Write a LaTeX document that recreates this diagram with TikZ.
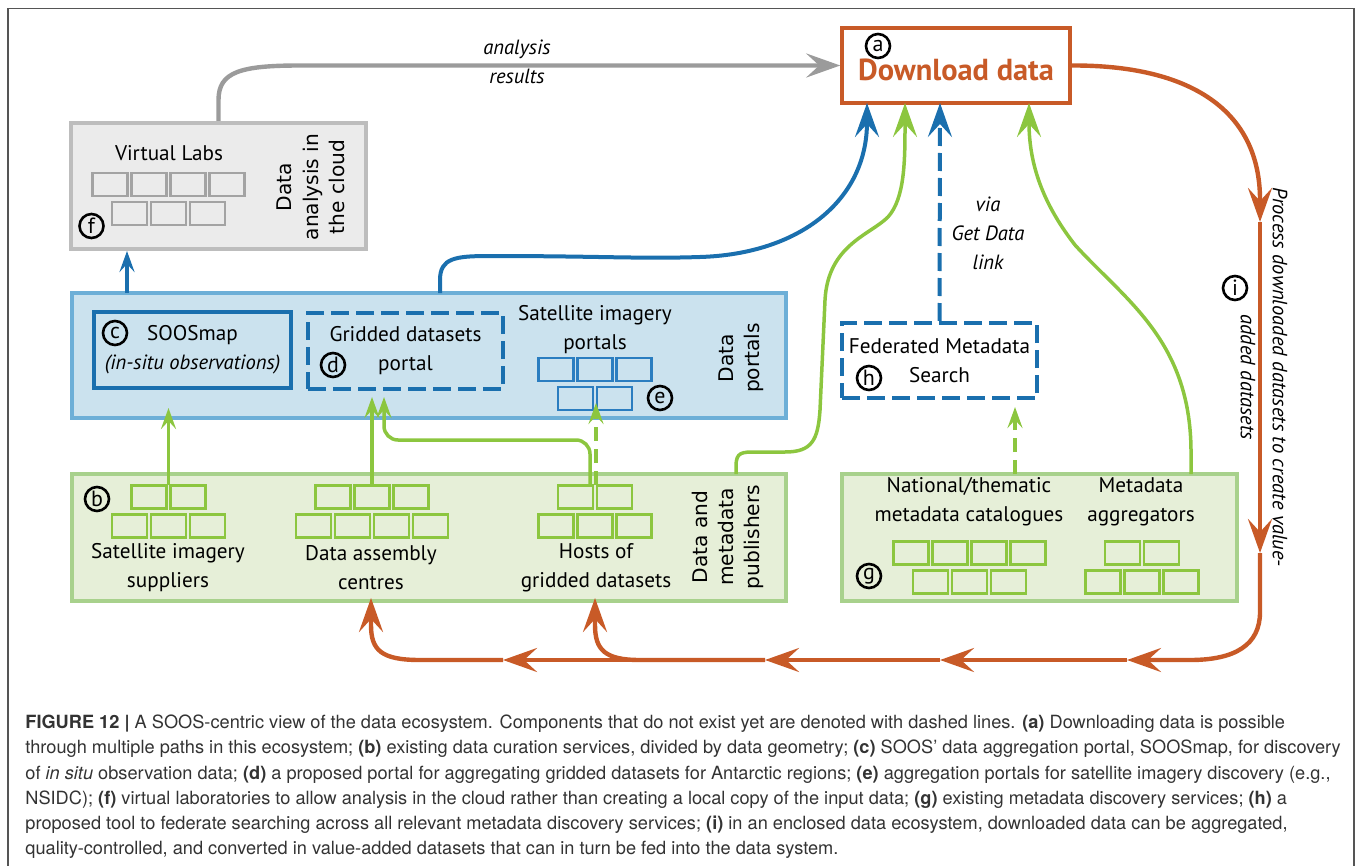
\documentclass[tikz,border=0pt]{standalone}
\usepackage{fontspec}
\setmainfont{PT Sans}
\newfontfamily\sidefont{DejaVu Sans}
\newfontfamily\capfont{TeX Gyre Heros}
\usetikzlibrary{arrows.meta}

\definecolor{dlorange}{HTML}{C85A27}
\definecolor{arrgray}{HTML}{9B9B9B}
\definecolor{soosblue}{HTML}{1A6FAE}
\definecolor{brickblue}{HTML}{2A7DC0}
\definecolor{portalfill}{HTML}{CBE2EE}
\definecolor{portaldraw}{HTML}{6DAFD7}
\definecolor{arrgreen}{HTML}{8CC63F}
\definecolor{brickgreen}{HTML}{8CC63F}
\definecolor{pubfill}{HTML}{E6EFD8}
\definecolor{pubdraw}{HTML}{A8D18C}
\definecolor{labfill}{HTML}{EBEBEB}
\definecolor{labdraw}{HTML}{BDBDBD}
\definecolor{labbrick}{HTML}{A3A3A3}
\definecolor{framegray}{HTML}{555555}
\definecolor{captext}{HTML}{333333}

\newcommand{\lblsize}{\fontsize{10.6}{14.5}\selectfont}
% two rows of small boxes: centre x, centre y of upper row, boxes up, boxes down, style
\newcommand{\bricks}[5]{%
  \foreach \i in {1,...,#3} \node[#5] at ({#1+(\i-(#3+1)/2)*39},#2) {};
  \foreach \i in {1,...,#4} \node[#5] at ({#1+(\i-(#4+1)/2)*39},{#2+29}) {};
}

\begin{document}
\begin{tikzpicture}[x=0.5pt,y=-0.5pt,font=\lblsize,
    bigtip/.style={-{Stealth[length=17pt,width=12pt,inset=6.5pt]}},
    smalltip/.style={-{Stealth[length=10.5pt,width=7.5pt,inset=4pt]}},
    panel/.style={draw,line width=1.75pt,inner sep=0pt,align=center},
    brick/.style={draw,line width=1.2pt,minimum width=17.5pt,minimum height=11.5pt,inner sep=0pt},
    greenbrick/.style={brick,draw=brickgreen},
    bluebrick/.style={brick,draw=brickblue},
    graybrick/.style={brick,draw=labbrick},
    tag/.style={circle,draw,line width=1.3pt,minimum size=12pt,inner sep=0pt,font=\fontsize{11}{11}\selectfont},
    sideword/.style={align=center,font=\sidefont\fontsize{10.1}{13.2}\selectfont},
    note/.style={align=center,font=\itshape\fontsize{10.3}{14.5}\selectfont},
    capline/.style={anchor=base west,inner sep=0pt,text=captext,font=\capfont\fontsize{9.1}{11}\selectfont},
    soon/.style={dash pattern=on 9pt off 3.5pt},
    soongreen/.style={dash pattern=on 7pt off 4pt},
    orangeline/.style={draw=dlorange,line width=2.2pt,bigtip},
    greenline/.style={draw=arrgreen,line width=1.75pt},
    blueline/.style={draw=soosblue,line width=2pt}]
    \useasboundingbox (0,0) rectangle (1358,866);
    \draw[framegray, line width=0.8pt] (8,866) -- (8,8.5) -- (1354,8.5) -- (1354,866);

    % Download data
    \node[panel, draw=dlorange, minimum width=114pt, minimum height=37.5pt, text height=15.5pt, text=dlorange, font=\bfseries\fontsize{15.2}{15.2}\selectfont] (dl) at (956,65.5) {Download data};
    \node[tag] (tagA) at (878,46) {a};

    % Virtual labs box
    \node[panel, draw=labdraw, fill=labfill, line width=2pt, minimum width=147.5pt, minimum height=63pt] (vl) at (218.5,186) {};
    \node (vlname) at (169,153) {Virtual Labs};
    \bricks{168.5}{184.5}{4}{3}{graybrick}
    \node[sideword, rotate=90] (vlside) at (311,187) {Data\\analysis in\\the cloud};
    \node[tag] (tagF) at (91.5,226) {f};

    % Data portals box
    \node[panel, draw=portaldraw, fill=portalfill, minimum width=357pt, minimum height=62.5pt] (dp) at (428.75,355.5) {};
    \node[panel, draw=soosblue, line width=2.2pt, minimum width=98.5pt, minimum height=38pt] (soos) at (192.5,350) {SOOSmap\\\textit{\fontsize{10.3}{14.5}\selectfont(in-situ observations)}};
    \node[tag] (tagC) at (115,333) {c};
    \node[panel, draw=soosblue, line width=2pt, soon, minimum width=97.5pt, minimum height=38pt] (grid) at (405.5,351) {Gridded datasets\\portal};
    \node[tag] (tagD) at (333,365) {d};
    \node[align=center] (satport) at (595,330) {Satellite imagery\\portals};
    \bricks{595}{369.5}{3}{2}{bluebrick}
    \node[tag] (tagE) at (660,398) {e};
    \node[sideword, rotate=90] (dpside) at (741,358) {Data\\portals};

    % Data and metadata publishers box
    \node[panel, draw=pubdraw, fill=pubfill, minimum width=357pt, minimum height=63.5pt] (pub) at (428.75,537.5) {};
    \bricks{168.5}{497}{2}{3}{greenbrick}
    \bricks{372}{497}{3}{4}{greenbrick}
    \bricks{595}{497}{2}{3}{greenbrick}
    \node[align=center] (supname) at (168,567.5) {Satellite imagery\\suppliers};
    \node[align=center] (dasname) at (371,567.5) {Data assembly\\centres};
    \node[align=center] (hostname) at (596,567.5) {Hosts of\\gridded datasets};
    \node[tag] (tagB) at (97,499) {b};
    \node[sideword, rotate=90] (pubside) at (728,537) {Data and\\metadata\\publishers};

    % Metadata catalogues box
    \node[panel, draw=pubdraw, fill=pubfill, minimum width=197.5pt, minimum height=63.5pt] (md) at (1039.5,537.5) {};
    \node[align=center] (natname) at (969,502) {National/thematic\\metadata catalogues};
    \node[align=center] (aggname) at (1141,502) {Metadata\\aggregators};
    \bricks{969.5}{553}{4}{3}{greenbrick}
    \bricks{1142}{553}{2}{3}{greenbrick}
    \node[tag] (tagG) at (869,576) {g};

    % Federated search box
    \node[panel, draw=soosblue, line width=2pt, soon, fill=white, minimum width=97.5pt, minimum height=37.5pt] (fed) at (939.5,360.5) {Federated Metadata\\Search};
    \node[tag] (tagH) at (869,378) {h};
    \node[tag] (tagI) at (1235,288) {i};

    % Arrow labels
    \node[note] (resultsnote) at (517,62) {analysis\\results};
    \node[note] (vianote) at (988,233.5) {via\\Get Data\\link};
    \node[note, rotate=-90] (procnote) at (1264,377) {Process downloaded datasets to create value-\\[1.5pt]added datasets};

    % Attachment points
    \coordinate (supTop) at (168.5,485);
    \coordinate (supIn) at (168.5,408);
    \coordinate (dasTop) at (372,485);
    \coordinate (dasUp) at (372,397);
    \coordinate (hostTopA) at (590,485);
    \coordinate (hostBend) at (384,440);
    \coordinate (hostTopB) at (596,485);
    \coordinate (hostUp) at (596,403);
    \coordinate (dpTopA) at (127,293);
    \coordinate (dpTopB) at (440,293);
    \coordinate (pubTop) at (736,474);
    \coordinate (mdTopA) at (1015,474);
    \coordinate (mdTopB) at (1191,474);
    \coordinate (fedIn) at (1015,407);
    \coordinate (dlInA) at (867,103);
    \coordinate (dlInB) at (905,103);
    \coordinate (dlInC) at (940,103);
    \coordinate (dlInD) at (1029,103);
    \coordinate (o1) at (1260,222);
    \coordinate (o2) at (1260,553);
    \coordinate (o3) at (1127,660);
    \coordinate (o4) at (940,660);
    \coordinate (o5) at (765,660);
    \coordinate (o6) at (503,660);
    \coordinate (hostIn) at (595,598);
    \coordinate (dasIn) at (371,598);

    % Arrows into the portals and labs
    \draw[greenline, smalltip] (supTop) -- (supIn);
    \draw[greenline, smalltip] (dasTop) -- (dasUp);
    \draw[greenline, smalltip, rounded corners=7pt] (hostTopA) |- (hostBend) -- (dasUp -| hostBend);
    \draw[greenline, soongreen, smalltip] (hostTopB) -- (hostUp);
    \draw[greenline, soongreen, smalltip] (mdTopA) -- (fedIn);
    \draw[blueline, smalltip] (dpTopA) -- (dpTopA |- vl.south);

    % Arrows into Download data
    \draw[draw=arrgray, line width=2.2pt, bigtip] (vl.north) -- (218.5,100) .. controls (218.5,72) and (240,65.5) .. (300,65.5) -- (dl.west);
    \draw[blueline, bigtip] (dpTopB) -- (440,280) .. controls (440,258) and (455,256) .. (490,256) .. controls (600,256) and (640,259) .. (700,257) .. controls (800,254) and (867,200) .. (dlInA);
    \draw[greenline, bigtip] (pubTop) -- (736,466) .. controls (736,452) and (742,452) .. (756,452) -- (785,452) .. controls (812,452) and (818,440) .. (820,410) -- (825,300) .. controls (828,245) and (870,235) .. (888,217) .. controls (905,198) and (905,160) .. (dlInB);
    \draw[blueline, soon, bigtip] (fed.north) -- (dlInC);
    \draw[greenline, bigtip] (mdTopB) -- (1191,450) .. controls (1190,340) and (1125,300) .. (1075,245) .. controls (1040,200) and (1029,160) .. (dlInD);

    % Processing loop back to the publishers
    \draw[orangeline] (dl.east) .. controls (1190,65) and (1260,110) .. (1260,200) -- (o1);
    \draw[orangeline] (o1) -- (o2);
    \draw[orangeline] (o2) -- (1260,612) .. controls (1260,645) and (1235,660) .. (1190,660) -- (o3);
    \draw[orangeline] (o3) -- (o4);
    \draw[orangeline] (o4) -- (o5);
    \draw[orangeline] (o5) -- (640,660) .. controls (605,660) and (595,650) .. (595,625) -- (hostIn);
    \draw[orangeline] (o5) -- (o6);
    \draw[orangeline] (o6) -- (420,660) .. controls (381,660) and (371,650) .. (371,625) -- (dasIn);

    % Caption, one node per printed line
    \node[capline] (capA) at (25,728) {\textbf{FIGURE 12} \textbf{|} A SOOS-centric view of the data ecosystem. Components that do not exist yet are denoted with dashed lines. \textbf{(a)} Downloading data is possible};
    \node[capline] (capB) at (25,753) {through multiple paths in this ecosystem; \textbf{(b)} existing data curation services, divided by data geometry; \textbf{(c)} SOOS’ data aggregation portal, SOOSmap, for discovery};
    \node[capline] (capC) at (25,779) {of \textit{in situ} observation data; \textbf{(d)} a proposed portal for aggregating gridded datasets for Antarctic regions; \textbf{(e)} aggregation portals for satellite imagery discovery (e.g.,};
    \node[capline] (capD) at (25,804) {NSIDC); \textbf{(f)} virtual laboratories to allow analysis in the cloud rather than creating a local copy of the input data; \textbf{(g)} existing metadata discovery services; \textbf{(h)} a};
    \node[capline] (capE) at (25,829) {proposed tool to federate searching across all relevant metadata discovery services; \textbf{(i)} in an enclosed data ecosystem, downloaded data can be aggregated,};
    \node[capline] (capF) at (25,854) {quality-controlled, and converted in value-added datasets that can in turn be fed into the data system.};
\end{tikzpicture}
\end{document}
